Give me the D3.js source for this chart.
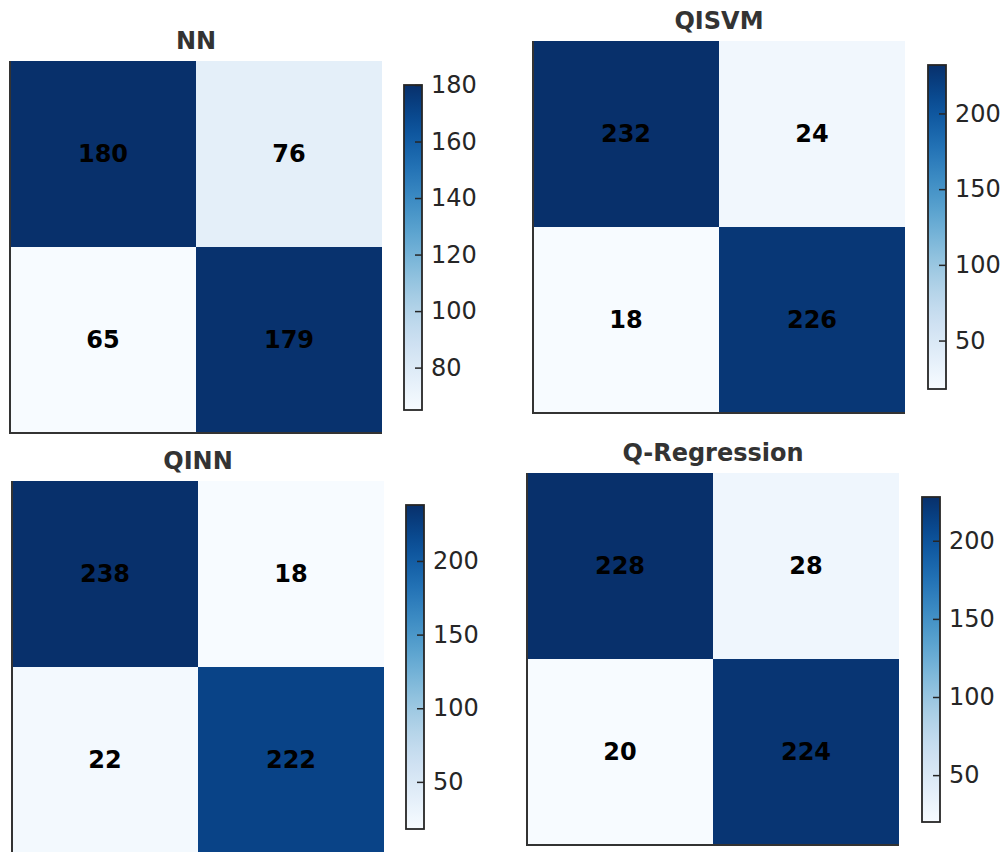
<!DOCTYPE html>
<html>
<head>
<meta charset="utf-8">
<script src="https://cdn.jsdelivr.net/npm/d3@7"></script>
<style>
  body { margin: 0; background: #fff; }
  svg { display: block; font-family: "DejaVu Sans", sans-serif; }
  .title { font-weight: bold; font-size: 24px; fill: #333; text-anchor: middle; }
  .cell-label { font-weight: bold; font-size: 24px; fill: #000; text-anchor: middle; dominant-baseline: central; }
  .cbar text { font-size: 24px; fill: #262626; font-family: "DejaVu Sans", sans-serif; }
  .cbar line { stroke: #262626; stroke-width: 1.5; }
</style>
</head>
<body>
<div id="plot"></div>
<script>
// confusion matrices, rows = true class, cols = predicted
const titles = ["NN", "QISVM", "QINN", "Q-Regression"]
const nnValues = [[180, 76], [65, 179]]
const qisvmValues = [[232, 24], [18, 226]]
const qinnValues = [[238, 18], [22, 222]]
const qregValues = [[228, 28], [20, 224]]
const nnTicks = [80, 100, 120, 140, 160, 180]
const qTicks = [50, 100, 150, 200]

const matrices = [nnValues, qisvmValues, qinnValues, qregValues],
      tickSets = [nnTicks, qTicks, qTicks, qTicks]

const w = 1002, h = 852,
      cell = 186,
      cbW = 18
// where each subplot sits on the page
const layout = [
  {hx: 10,  hy: 61,  cbx: 404, cbTop: 85,  cbBot: 410},
  {hx: 533, hy: 41,  cbx: 928, cbTop: 65,  cbBot: 389},
  {hx: 12,  hy: 481, cbx: 406, cbTop: 505, cbBot: 829},
  {hx: 527, hy: 473, cbx: 922, cbTop: 497, cbBot: 822}
]

const svg = d3.select("#plot").append("svg")
  .attr("width", w)
  .attr("height", h)

const defs = svg.append("defs")

matrices.forEach((m, i) => {
  const L = layout[i],
        flat = m.flat(),
        lo = d3.min(flat), hi = d3.max(flat),
        color = d3.scaleSequential(d3.interpolateBlues).domain([lo, hi]),
        x = d3.scaleBand().domain([0, 1]).range([L.hx, L.hx + 2 * cell]),
        y = d3.scaleBand().domain([0, 1]).range([L.hy, L.hy + 2 * cell])

  const g = svg.append("g")

  const cells = []
  m.forEach((row, r) => row.forEach((v, c) => cells.push({r, c, v})))

  g.selectAll("rect.cell")
    .data(cells)
    .join("rect")
    .attr("class", "cell")
    .attr("x", d => x(d.c))
    .attr("y", d => y(d.r))
    .attr("width", x.bandwidth())
    .attr("height", y.bandwidth())
    .attr("fill", d => color(d.v))

  g.selectAll("text.cell-label")
    .data(cells)
    .join("text")
    .attr("class", "cell-label")
    .attr("x", d => x(d.c) + x.bandwidth() / 2)
    .attr("y", d => y(d.r) + y.bandwidth() / 2)
    .text(d => d.v)

  // only left and bottom spines show
  g.append("path")
    .attr("d", `M${L.hx},${L.hy}V${L.hy + 2 * cell}H${L.hx + 2 * cell}`)
    .attr("fill", "none")
    .attr("stroke", "#333")
    .attr("stroke-width", 2)

  g.append("text")
    .attr("class", "title")
    .attr("x", L.hx + cell)
    .attr("y", L.hy - 12)
    .text(titles[i])

  // colorbar
  const gradId = "grad" + i
  const grad = defs.append("linearGradient")
    .attr("id", gradId)
    .attr("x1", 0).attr("y1", 1).attr("x2", 0).attr("y2", 0)
  d3.range(0, 1.0001, 0.05).forEach(t => {
    grad.append("stop")
      .attr("offset", t)
      .attr("stop-color", color(lo + t * (hi - lo)))
  })

  const cy = d3.scaleLinear().domain([lo, hi]).range([L.cbBot, L.cbTop])

  g.append("rect")
    .attr("x", L.cbx)
    .attr("y", L.cbTop)
    .attr("width", cbW)
    .attr("height", L.cbBot - L.cbTop)
    .attr("fill", `url(#${gradId})`)
    .attr("stroke", "#262626")
    .attr("stroke-width", 1.8)

  const ax = g.append("g")
    .attr("class", "cbar")
    .attr("transform", `translate(${L.cbx + cbW}, 0)`)
    .call(d3.axisRight(cy).tickValues(tickSets[i]).tickSize(-7).tickPadding(9))
  ax.select(".domain").remove()
  ax.attr("font-size", null).attr("font-family", null)
})
</script>
</body>
</html>
